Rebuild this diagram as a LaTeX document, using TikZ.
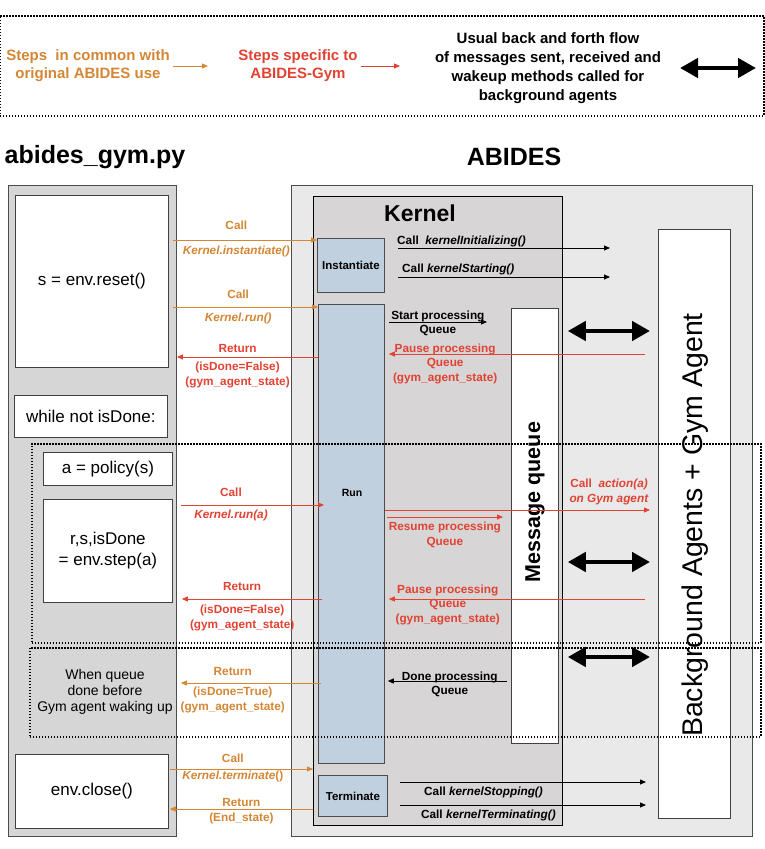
\documentclass[tikz,border=0pt]{standalone}
\usepackage{fontspec}
\setmainfont{Liberation Sans}
\usepackage{tikz}
\usetikzlibrary{arrows.meta,positioning}
\definecolor{commoncolor}{RGB}{212,134,52}
\definecolor{gymcolor}{RGB}{225,66,50}
\definecolor{procblue}{RGB}{193,208,223}
\definecolor{pygray}{RGB}{214,214,214}
\definecolor{abidesgray}{RGB}{233,233,233}
\definecolor{kernelgray}{RGB}{215,213,214}
\newcommand{\lblsize}{\fontsize{11.8}{15}\selectfont}

\begin{document}
\begin{tikzpicture}[
    x=1pt, y=-1pt,
    panel/.style={draw=black!70, line width=0.9pt, anchor=north west, inner sep=0pt},
    codebox/.style={draw=black!75, fill=white, line width=0.8pt, anchor=north west, inner sep=0pt, align=center, font=\fontsize{17}{21}\selectfont},
    procbox/.style={draw=black!70, fill=procblue, line width=0.8pt, anchor=north west, inner sep=0pt, font=\bfseries\fontsize{11.5}{14}\selectfont},
    lbl/.style={inner sep=1pt, align=center, font=\bfseries\lblsize},
    callarrow/.style={-{Triangle[length=6pt,width=5pt]}, line width=0.8pt},
    commonarrow/.style={callarrow, color=commoncolor},
    gymarrow/.style={callarrow, color=gymcolor},
    flowarrow/.style={callarrow, color=black},
    twoway/.style={{Triangle[length=18pt,width=19pt]}-{Triangle[length=18pt,width=19pt]}, line width=4.5pt},
    loopbox/.style={draw, line width=1.5pt, dash pattern=on 1.5pt off 1.5pt, anchor=north west, inner sep=0pt}
]
    \useasboundingbox (0,0) rectangle (764,849);

    % Legend
    \node[loopbox, minimum width=764pt, minimum height=100pt] (legend) at (-1,15) {};
    \node[font=\bfseries\fontsize{15}{18}\selectfont, text=commoncolor, align=center] (legcommon) at (88,66) {Steps\ \ in common with\\original ABIDES use};
    \node[font=\bfseries\fontsize{15}{18}\selectfont, text=gymcolor, align=center] (legspecific) at (298,66) {Steps specific to\\ABIDES-Gym};
    \node[font=\bfseries\fontsize{15}{19}\selectfont, align=center] (legflow) at (548,68) {Usual back and forth flow\\of messages sent, received and\\wakeup methods called for\\background agents};
    \coordinate (legcommonend) at (208,66);
    \coordinate (legspecificend) at (400,66);
    \coordinate (flowleft) at (680,68);
    \coordinate (flowright) at (756,68);
    \draw[commonarrow] (legcommon.east) -- (legcommonend);
    \draw[gymarrow] (legspecific.east) -- (legspecificend);
    \draw[twoway] (flowleft) -- (flowright);

    % Titles
    \node[font=\bfseries\fontsize{25}{30}\selectfont] (pytitle) at (95,157) {abides\_gym.py};
    \node[font=\bfseries\fontsize{25}{30}\selectfont] (abidestitle) at (514,157) {ABIDES};

    % Panels
    \node[panel, fill=pygray, minimum width=168pt, minimum height=651pt] (py) at (8,185) {};
    \node[panel, fill=abidesgray, minimum width=461pt, minimum height=651pt] (abides) at (291,185) {};
    \node[panel, draw=black, fill=kernelgray, minimum width=249pt, minimum height=629pt] (kernel) at (313,196) {};
    \node[font=\bfseries\fontsize{23}{28}\selectfont] (kerneltitle) at (420,213) {Kernel};

    % abides_gym.py side
    \node[codebox, minimum width=153pt, minimum height=172pt] (reset) at (15,195) {s = env.reset()};
    \node[codebox, minimum width=153pt, minimum height=42pt] (whileloop) at (14,395) {while not isDone:};
    \node[codebox, minimum width=129pt, minimum height=33pt] (policy) at (43,452) {a = policy(s)};
    \node[codebox, minimum width=129pt, minimum height=103pt] (stepbox) at (43,499) {r,s,isDone\\= env.step(a)};
    \node[align=center, font=\fontsize{14}{16}\selectfont] (earlydone) at (105,692) {When queue\\done before\\Gym agent waking up};
    \node[codebox, minimum width=153pt, minimum height=74pt] (closebox) at (15,754) {env.close()};

    % Kernel parts
    \node[procbox, minimum width=67pt, minimum height=54pt] (inst) at (317,238) {Instantiate};
    \node[procbox, minimum width=66pt, minimum height=459pt] (run) at (318,304) {};
    \node[font=\bfseries\fontsize{10.5}{12}\selectfont] (runlabel) at (352,493) {Run};
    \node[procbox, minimum width=69pt, minimum height=41pt] (term) at (318,775) {Terminate};
    \node[codebox, minimum width=47pt, minimum height=435pt] (queue) at (511,308) {};
    \node[font=\bfseries\fontsize{21.5}{26}\selectfont, rotate=90] (queuelabel) at (535,502) {Message queue};

    % Agents
    \node[codebox, minimum width=72pt, minimum height=589pt] (agents) at (658,229) {};
    \node[font=\fontsize{28.5}{34}\selectfont, rotate=90] (agentslabel) at (695,525) {Background Agents + Gym Agent};

    % Rows
    \coordinate (rowinst) at (0,240);
    \coordinate (rowrun) at (0,307);
    \coordinate (rowret) at (0,357);
    \coordinate (rowruna) at (0,505);
    \coordinate (rowret2) at (0,599);
    \coordinate (rowret3) at (0,683);
    \coordinate (rowterm) at (0,769);
    \coordinate (rowend) at (0,809);
    \coordinate (rowinit) at (0,248);
    \coordinate (rowstart) at (0,277);
    \coordinate (rowqstart) at (0,322);
    \coordinate (rowpause) at (0,354);
    \coordinate (rowact) at (0,510);
    \coordinate (rowresume) at (0,517);
    \coordinate (rowpause2) at (0,599);
    \coordinate (rowdone) at (0,681);
    \coordinate (rowstop) at (0,782);
    \coordinate (rowkterm) at (0,805);
    \coordinate (rowmsga) at (0,331);
    \coordinate (rowmsgb) at (0,562);
    \coordinate (rowmsgc) at (0,657);

    % Calls between abides_gym.py and Kernel
    \draw[commonarrow] ([xshift=-4pt]py.east |- rowinst) -- node[lbl, pos=.44, above=8.8pt] {Call} node[lbl, pos=.44, below=5pt] {\itshape Kernel.instantiate()} (inst.west |- rowinst);
    \draw[commonarrow] ([xshift=-4pt]py.east |- rowrun) -- node[lbl, pos=.45, above=6.8pt] {Call} node[lbl, pos=.45, below=5pt] {\itshape Kernel.run()} (run.west |- rowrun);
    \draw[gymarrow] (run.west |- rowret) -- node[lbl, pos=.57, above=2.8pt] {Return} node[lbl, pos=.57, below=4pt] {(isDone=False)\\(gym\_agent\_state)} (py.east |- rowret);
    \draw[gymarrow] ([xshift=4pt]py.east |- rowruna) -- node[lbl, pos=.35, above=6.8pt] {Call} node[lbl, pos=.35, below=4pt] {\itshape Kernel.run(a)} ([xshift=6pt]run.west |- rowruna);
    \draw[gymarrow] ([xshift=4pt]run.west |- rowret2) -- node[lbl, pos=.57, above=6.8pt] {Return} node[lbl, pos=.57, below=5pt] {(isDone=False)\\(gym\_agent\_state)} ([xshift=5pt]py.east |- rowret2);
    \draw[commonarrow] ([xshift=3pt]run.west |- rowret3) -- node[lbl, pos=.63, above=5.8pt] {Return} node[lbl, pos=.63, below=3pt] {(isDone=True)\\(gym\_agent\_state)} ([xshift=4pt]py.east |- rowret3);
    \draw[commonarrow] ([xshift=1pt]closebox.east |- rowterm) -- node[lbl, pos=.44, above=4.8pt] {Call} node[lbl, pos=.44, below=1pt] {\textit{Kernel.terminate}()} (kernel.west |- rowterm);
    \draw[commonarrow] (kernel.west |- rowend) -- node[lbl, pos=.5, above=0.8pt] {Return} node[lbl, pos=.5, below=3pt] {(End\_state)} ([xshift=1pt]closebox.east |- rowend);

    % Calls inside ABIDES
    \draw[flowarrow] ([xshift=13pt]inst.east |- rowinit) -- node[lbl, pos=0, anchor=base west, xshift=-2pt, yshift=3.8pt] {Call\ \ \textit{kernelInitializing()}} ([xshift=-48pt]agents.west |- rowinit);
    \draw[flowarrow] ([xshift=13pt]inst.east |- rowstart) -- node[lbl, pos=0, anchor=base west, xshift=3pt, yshift=4.8pt] {Call \textit{kernelStarting()}} ([xshift=-48pt]agents.west |- rowstart);
    \draw[flowarrow] ([xshift=4pt]run.east |- rowqstart) -- node[lbl, pos=.5, anchor=base, yshift=2.8pt] {Start processing} node[lbl, pos=.5, below=2pt] {Queue} ([xshift=-24pt]queue.west |- rowqstart);
    \draw[gymarrow] ([xshift=-13pt]agents.west |- rowpause) -- node[lbl, pos=.78, anchor=base, yshift=1.8pt] {Pause processing} node[lbl, pos=.78, below=3pt] {Queue\\(gym\_agent\_state)} ([xshift=4pt]run.east |- rowpause);
    \draw[gymarrow] (run.east |- rowact) -- node[lbl, pos=1, anchor=south east, yshift=4pt] {Call\ \ \textit{action(a)}\\\textit{on Gym agent}} ([xshift=-8pt]agents.west |- rowact);
    \draw[gymarrow] ([xshift=2pt]run.east |- rowresume) -- node[lbl, pos=.5, below=4pt] {Resume processing\\Queue} ([xshift=-8pt]queue.west |- rowresume);
    \draw[gymarrow] ([xshift=-13pt]agents.west |- rowpause2) -- node[lbl, pos=.77, anchor=base, yshift=5.8pt] {Pause processing} node[lbl, pos=.77, below=-1pt] {Queue\\(gym\_agent\_state)} ([xshift=4pt]run.east |- rowpause2);
    \draw[flowarrow] ([xshift=-4pt]queue.west |- rowdone) -- node[lbl, pos=.48, anchor=base, yshift=0.8pt] {Done processing} node[lbl, pos=.48, below=4pt] {Queue} ([xshift=3pt]run.east |- rowdone);
    \draw[flowarrow] ([xshift=12pt]term.east |- rowstop) -- node[lbl, pos=.34, below=4pt] {Call \textit{kernelStopping()}} ([xshift=-12pt]agents.west |- rowstop);
    \draw[flowarrow] ([xshift=12pt]term.east |- rowkterm) -- node[lbl, pos=.36, below=4pt] {Call \textit{kernelTerminating()}} ([xshift=-12pt]agents.west |- rowkterm);

    % Message flow with agents
    \draw[twoway] ([xshift=9pt]queue.east |- rowmsga) -- ([xshift=-8pt]agents.west |- rowmsga);
    \draw[twoway] ([xshift=9pt]queue.east |- rowmsgb) -- ([xshift=-8pt]agents.west |- rowmsgb);
    \draw[twoway] ([xshift=9pt]queue.east |- rowmsgc) -- ([xshift=-8pt]agents.west |- rowmsgc);

    % Loops
    \node[loopbox, minimum width=729pt, minimum height=199pt] (steploop) at (31,443) {};
    \node[loopbox, minimum width=731pt, minimum height=89pt] (doneloop) at (29,647) {};
\end{tikzpicture}
\end{document}
